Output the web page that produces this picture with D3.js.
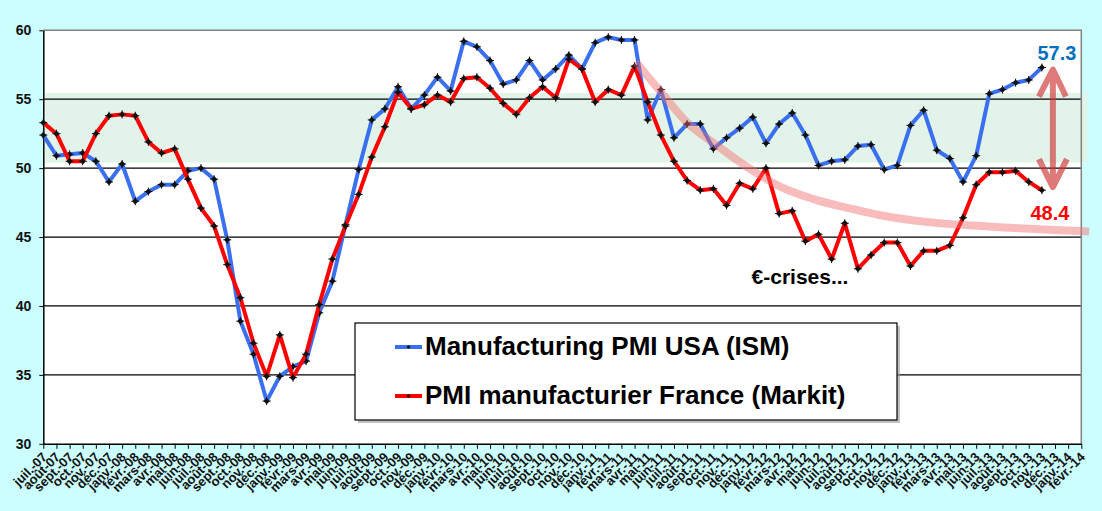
<!DOCTYPE html>
<html>
<head>
<meta charset="utf-8">
<script src="https://cdn.jsdelivr.net/npm/d3@7"></script>
<style>
  html, body { margin: 0; padding: 0; background: #ccffff; }
  svg { display: block; font-family: "Liberation Sans", Arial, sans-serif; }
</style>
</head>
<body>
<svg></svg>
<script>
const WIDTH = 1102;
const HEIGHT = 511;

// month labels, juil.-07 .. févr.-14
const LABELS = [
  'juil.-07', 'août-07', 'sept.-07', 'oct.-07', 'nov.-07', 'déc.-07',
  'janv.-08', 'févr.-08', 'mars-08', 'avr.-08', 'mai-08', 'juin-08',
  'juil.-08', 'août-08', 'sept.-08', 'oct.-08', 'nov.-08', 'déc.-08',
  'janv.-09', 'févr.-09', 'mars-09', 'avr.-09', 'mai-09', 'juin-09',
  'juil.-09', 'août-09', 'sept.-09', 'oct.-09', 'nov.-09', 'déc.-09',
  'janv.-10', 'févr.-10', 'mars-10', 'avr.-10', 'mai-10', 'juin-10',
  'juil.-10', 'août-10', 'sept.-10', 'oct.-10', 'nov.-10', 'déc.-10',
  'janv.-11', 'févr.-11', 'mars-11', 'avr.-11', 'mai-11', 'juin-11',
  'juil.-11', 'août-11', 'sept.-11', 'oct.-11', 'nov.-11', 'déc.-11',
  'janv.-12', 'févr.-12', 'mars-12', 'avr.-12', 'mai-12', 'juin-12',
  'juil.-12', 'août-12', 'sept.-12', 'oct.-12', 'nov.-12', 'déc.-12',
  'janv.-13', 'févr.-13', 'mars-13', 'avr.-13', 'mai-13', 'juin-13',
  'juil.-13', 'août-13', 'sept.-13', 'oct.-13', 'nov.-13', 'déc.-13',
  'janv.-14', 'févr.-14'
];

const Y_TICKS = [30, 35, 40, 45, 50, 55, 60];

// ISM manufacturing PMI, juil.-07 .. nov.-13
const US_PMI = [
  52.4, 50.9, 51.0, 51.1, 50.5, 49.0,
  50.3, 47.6, 48.3, 48.8, 48.8, 49.8, 50.0, 49.2, 44.8, 38.9, 36.5, 33.1,
  34.9, 35.6, 36.0, 39.5, 41.8, 45.9, 49.9, 53.5, 54.3, 55.9, 54.3, 55.3,
  56.6, 55.6, 59.2, 58.8, 57.8, 56.1, 56.4, 57.8, 56.4, 57.2, 58.2, 57.2,
  59.1, 59.5, 59.3, 59.3, 53.5, 55.7, 52.2, 53.2, 53.2, 51.4, 52.2, 52.9,
  53.7, 51.8, 53.2, 54.0, 52.4, 50.2, 50.5, 50.6, 51.6, 51.7, 49.9, 50.2,
  53.1, 54.2, 51.3, 50.7, 49.0, 50.9, 55.4, 55.7, 56.2, 56.4, 57.3
];

// Markit France manufacturing PMI, juil.-07 .. nov.-13
const FR_PMI = [
  53.3, 52.5, 50.5, 50.5, 52.5, 53.8,
  53.9, 53.8, 51.9, 51.1, 51.4, 49.2, 47.1, 45.8, 43.0, 40.6, 37.3, 34.9,
  37.9, 34.8, 36.5, 40.1, 43.4, 45.8, 48.1, 50.8, 53.0, 55.5, 54.3, 54.6,
  55.3, 54.8, 56.5, 56.6, 55.8, 54.7, 53.9, 55.1, 55.9, 55.1, 57.9, 57.2,
  54.8, 55.7, 55.3, 57.4, 54.8, 52.4, 50.5, 49.1, 48.4, 48.5, 47.3, 48.9,
  48.5, 50.0, 46.7, 46.9, 44.7, 45.2, 43.4, 46.0, 42.7, 43.7, 44.6, 44.6,
  42.9, 44.0, 44.0, 44.4, 46.4, 48.8, 49.7, 49.7, 49.8, 49.0, 48.4
];

const SERIES_NAMES = ['Manufacturing PMI USA (ISM)', 'PMI manufacturier France (Markit)'];

// shaded "expansion" band
const BAND = [50.4, 55.45];

// hand drawn trend curve: [month index, value]
const TREND_INDEX = [45.1, 47.1, 49.0, 51.2, 53.7, 56.2, 58.8, 61.3, 63.6, 67.2, 72.2, 77.3, 79.6];
const TREND_VALUE = [57.7, 55.4, 53.3, 51.7, 50.0, 48.6, 47.7, 47.1, 46.6, 46.1, 45.75, 45.5, 45.4];

const BLUE = '#3a6ff0';
const RED = '#ff0000';

window.onload = () => {
  const svg = d3.select('svg')
      .attr('width', WIDTH)
      .attr('height', HEIGHT);

  const left = 43.3, right = 1081.3, top = 30.3, bottom = 443.8;

  const x = d3.scaleLinear()
      .domain([0, LABELS.length - 1])
      .range([left, right]);
  const y = d3.scaleLinear()
      .domain([30, 60])
      .range([bottom, top]);

  // plot area
  svg.append('rect')
      .attr('x', left).attr('y', top)
      .attr('width', right - left).attr('height', bottom - top)
      .attr('fill', '#fff');

  // green band
  svg.append('rect')
      .attr('x', left + 2)
      .attr('y', y(BAND[1]))
      .attr('width', right - left + 4)
      .attr('height', y(BAND[0]) - y(BAND[1]))
      .attr('fill', '#e2f4e9');

  // gridlines
  svg.append('g')
    .selectAll('line')
    .data(Y_TICKS.filter((d) => d > 30 && d < 60))
    .join('line')
      .attr('x1', left).attr('x2', right)
      .attr('y1', (d) => y(d)).attr('y2', (d) => y(d))
      .attr('stroke', '#000')
      .attr('stroke-width', 1.2);

  // plot border top / right
  svg.append('path')
      .attr('d', `M${left},${top}H${right}V${bottom}`)
      .attr('fill', 'none')
      .attr('stroke', '#808080')
      .attr('stroke-width', 1.5);

  // axes
  const yAxis = svg.append('g')
      .attr('transform', `translate(${left},0)`)
      .call(d3.axisLeft(y).tickValues(Y_TICKS).tickSize(4).tickPadding(8).tickSizeOuter(0));
  yAxis.select('.domain').attr('stroke', '#000').attr('stroke-width', 1.5);
  yAxis.selectAll('text')
      .attr('font-size', 14)
      .attr('font-weight', 'bold')
      .attr('font-family', '"Liberation Sans", Arial, sans-serif')
      .attr('fill', '#111');

  const xAxis = svg.append('g')
      .attr('transform', `translate(0,${bottom})`)
      .call(d3.axisBottom(x)
        .tickValues(d3.range(LABELS.length))
        .tickFormat((i) => LABELS[i])
        .tickSize(5)
        .tickSizeOuter(0));
  xAxis.select('.domain').attr('stroke', '#000').attr('stroke-width', 1.5);
  xAxis.selectAll('text')
      .attr('y', 0)
      .attr('dy', 0)
      .attr('transform', 'translate(4,14) rotate(-45)')
      .attr('text-anchor', 'end')
      .attr('font-size', 13)
      .attr('font-weight', 'bold')
      .attr('font-family', '"Liberation Sans", Arial, sans-serif')
      .attr('fill', '#111');

  const line = d3.line()
      .x((d, i) => x(i))
      .y((d) => y(d));

  const diamond = d3.symbol(d3.symbolSquare, 20);

  function drawSeries(values, color) {
    const g = svg.append('g');
    g.append('path')
        .datum(values)
        .attr('d', line)
        .attr('fill', 'none')
        .attr('stroke', color)
        .attr('stroke-width', 4)
        .attr('stroke-linejoin', 'round');
    const m = g.selectAll('g.m')
      .data(values)
      .join('g')
        .attr('class', 'm')
        .attr('transform', (d, i) => `translate(${x(i)},${y(d)})`);
    m.append('path')
        .attr('d', diamond)
        .attr('transform', 'rotate(45)')
        .attr('fill', '#111');
    m.append('path')
        .attr('d', 'M-4,0H4M0,-4V4')
        .attr('stroke', '#111')
        .attr('stroke-width', 1);
  }

  drawSeries(US_PMI, BLUE);
  drawSeries(FR_PMI, RED);

  // trend curve
  svg.append('path')
      .datum(d3.zip(TREND_INDEX, TREND_VALUE))
      .attr('d', d3.line()
        .x((d) => x(d[0]))
        .y((d) => y(d[1]))
        .curve(d3.curveMonotoneX))
      .attr('fill', 'none')
      .attr('stroke', '#f26b6b')
      .attr('stroke-opacity', 0.45)
      .attr('stroke-width', 8);

  // double arrow between the last values
  const last = US_PMI.length - 1;
  const ax = x(last) + 11;
  const yTop = y(US_PMI[last]) + 2;
  const yBot = y(FR_PMI[last]) - 3;
  svg.append('path')
      .attr('d', `M${ax},${yTop}V${yBot}` +
        `M${ax - 14},${yTop + 27}L${ax},${yTop}L${ax + 13},${yTop + 27}` +
        `M${ax - 14},${yBot - 28}L${ax},${yBot}L${ax + 14},${yBot - 28}`)
      .attr('fill', 'none')
      .attr('stroke', '#cc3333')
      .attr('stroke-opacity', 0.65)
      .attr('stroke-width', 6)
      .attr('stroke-linejoin', 'round');

  // end labels
  svg.append('text')
      .attr('x', x(last) + 15)
      .attr('y', y(US_PMI[last]) - 7.5)
      .attr('text-anchor', 'middle')
      .attr('font-size', 20)
      .attr('font-weight', 'bold')
      .attr('fill', '#0070c0')
      .text(d3.format('.1f')(US_PMI[last]));
  svg.append('text')
      .attr('x', x(last) + 8)
      .attr('y', y(FR_PMI[last]) + 30)
      .attr('text-anchor', 'middle')
      .attr('font-size', 20)
      .attr('font-weight', 'bold')
      .attr('fill', RED)
      .text(d3.format('.1f')(FR_PMI[last]));

  svg.append('text')
      .attr('x', 800)
      .attr('y', 284)
      .attr('text-anchor', 'middle')
      .attr('font-size', 21)
      .attr('font-weight', 'bold')
      .attr('fill', '#000')
      .text('€-crises...');

  // legend
  const lg = svg.append('g').attr('transform', 'translate(355,323)');
  lg.append('rect')
      .attr('x', 3).attr('y', 3)
      .attr('width', 542).attr('height', 97)
      .attr('fill', '#999')
      .attr('opacity', 0.6);
  lg.append('rect')
      .attr('width', 542).attr('height', 97)
      .attr('fill', '#fff')
      .attr('stroke', '#000')
      .attr('stroke-width', 1.2);
  const item = lg.selectAll('g.item')
    .data(SERIES_NAMES)
    .join('g')
      .attr('class', 'item')
      .attr('transform', (d, i) => `translate(0,${24 + i * 49})`);
  item.append('line')
      .attr('x1', 40).attr('x2', 67)
      .attr('stroke', (d, i) => (i === 0 ? BLUE : RED))
      .attr('stroke-width', 4);
  item.append('path')
      .attr('d', d3.symbol(d3.symbolSquare, 8))
      .attr('transform', 'translate(53.5,0) rotate(45)')
      .attr('fill', '#111');
  item.append('text')
      .attr('x', 70)
      .attr('y', 8)
      .attr('font-size', 26)
      .attr('font-weight', 'bold')
      .attr('fill', '#000')
      .text((d) => d);
};
</script>
</body>
</html>
